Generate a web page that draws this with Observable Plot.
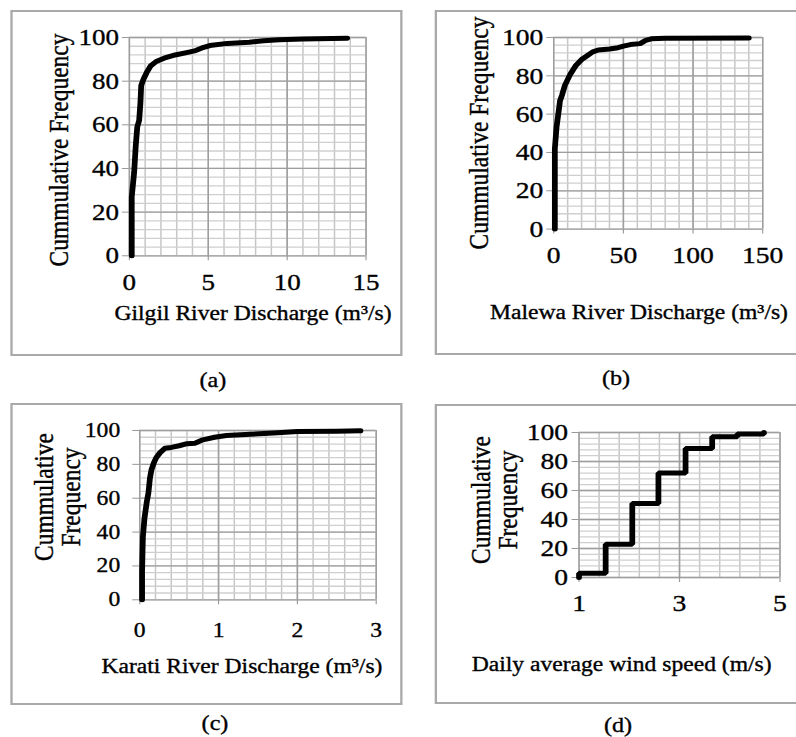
<!DOCTYPE html>
<html>
<head>
<meta charset="utf-8">
<script src="https://cdn.jsdelivr.net/npm/d3@7"></script>
<script src="https://cdn.jsdelivr.net/npm/@observablehq/plot@0.6"></script>
<style>
html,body{margin:0;padding:0;background:#fff;width:796px;height:737px;overflow:hidden}
#page{position:absolute;left:0;top:0;height:737px;transform-origin:0 0;font-family:'Liberation Serif','Times New Roman',serif;color:#000}
.frame{position:absolute;border:2px solid #a9a9a9;box-sizing:border-box}
.t{position:absolute;white-space:nowrap;transform:translate(-50%,-50%);line-height:1.15;-webkit-text-stroke:0.35px #000}
.yt{position:absolute;white-space:nowrap;text-align:center;transform:translate(-50%,-50%) rotate(-90deg);-webkit-text-stroke:0.35px #000}
svg{position:absolute}
svg text{stroke:#000;stroke-width:0.35px}
</style>
</head>
<body>
<div id="page"></div>
<script>
// ---- data ----
const yTicks = [0, 20, 40, 60, 80, 100];

const gilgilTicks = [0, 5, 10, 15];
const gilgilDischarge = [0.15,0.15,0.3,0.4,0.5,0.62,0.7,0.75,0.9,1.1,1.35,1.7,2.2,2.9,3.7,4.2,4.6,5.1,6.2,7.6,8.5,9.5,11,13.8];
const gilgilFreq      = [0,27,38,50,59,62,70,78,81,84,87,89,90.5,92,93.2,94,95.2,96.3,97.3,97.8,98.5,99,99.3,99.7];

const malewaTicks = [0, 50, 100, 150];
const malewaDischarge = [0.8,0.8,2,4,4.5,6,8,10,12,16,20,24,28,32,40,45,50,55,62,66,70,80,140];
const malewaFreq      = [0,42,53,64,67,70,75,78,81,85.5,88.5,90.5,92.5,93.5,94,94.5,95.5,96.3,96.8,98.5,99.3,99.6,99.7];

const karatiTicks = [0, 1, 2, 3];
const karatiDischarge = [0.03,0.03,0.04,0.06,0.09,0.11,0.13,0.15,0.18,0.21,0.26,0.32,0.4,0.5,0.6,0.7,0.8,0.95,1.1,1.4,1.7,2.0,2.5,2.8];
const karatiFreq      = [0,17,37,48,58,63,72,77,81,84,87,89.5,90,91,92.2,92.5,94.5,96,97,97.8,98.5,99.4,99.6,99.8];

const windTicks = [1, 3, 5];
const windSpeed = [1,1,1.53,2.06,2.58,3.12,3.65,4.15,4.68];
const windFreq  = [0,3,23,51,72,89,97,99,100];

const yTitle = "Cummulative Frequency";
const xTitles = ["Gilgil River Discharge (m³/s)", "Malewa River Discharge (m³/s)", "Karati River Discharge (m³/s)", "Daily average wind speed (m/s)"];
const captions = ["(a)", "(b)", "(c)", "(d)"];

// ---- layout ----
const K = 1.15; // horizontal stretch of the reference figure
const page = document.getElementById("page");
page.style.width = (796 / K) + "px";
page.style.transform = `scaleX(${K})`;
const FONT = "'Liberation Serif','Times New Roman',serif";

const rows = (xs, ys) => xs.map((x, i) => ({x, y: ys[i]}));

const panels = [
  {frame:{l:10,t:10,r:403,b:356}, plot:{L:128.3,R:365,T:36.7,B:255}, domain:[0,15], ticks:gilgilTicks, minor:1,
   data:rows(gilgilDischarge, gilgilFreq), curve:"linear", join:"round", tickFont:23.5, ySize:6, yPad:3, xPad:13,
   xt:[253,314], yt:[59.5,150], twoLine:false, cap:[213,380]},
  {frame:{l:435,t:10,r:800,b:355}, plot:{L:553.3,R:762.3,T:36.7,B:228.3}, domain:[0,150], ticks:malewaTicks, minor:10,
   data:rows(malewaDischarge, malewaFreq), curve:"linear", join:"round", tickFont:24, ySize:6, yPad:3, xPad:12,
   xt:[639,313], yt:[480,132.5], twoLine:false, cap:[616,378]},
  {frame:{l:10,t:403,r:403,b:705}, plot:{L:139,R:375.5,T:430,B:599.3}, domain:[0,3], ticks:karatiTicks, minor:0.2,
   data:rows(karatiDischarge, karatiFreq), curve:"linear", join:"round", tickFont:20.5, ySize:6, yPad:11, xPad:17.5,
   xt:[242,667], yt:[57,497], twoLine:true, cap:[215,723]},
  {frame:{l:435,t:404,r:800,b:704}, plot:{L:578.3,R:779.3,T:431.7,B:576.7}, domain:[1,5], ticks:windTicks, minor:0.4,
   data:rows(windSpeed, windFreq), curve:"step-after", join:"miter", tickFont:24, ySize:6, yPad:3.5, xPad:11,
   xt:[621.7,665], yt:[494.5,500], twoLine:true, cap:[618,725]}
];

panels.forEach((p, i) => {
  const f = document.createElement("div");
  f.className = "frame";
  f.style.left = (p.frame.l / K) + "px";
  f.style.top = p.frame.t + "px";
  f.style.width = ((p.frame.r - p.frame.l) / K) + "px";
  f.style.height = (p.frame.b - p.frame.t) + "px";
  page.appendChild(f);

  const Lu = p.plot.L / K, Ru = p.plot.R / K;
  const mL = 75, mR = 15, mT = 12, mB = 45;
  const n = Math.round((p.domain[1] - p.domain[0]) / p.minor);
  const xMinor = d3.range(n + 1).map(j => p.domain[0] + j * p.minor);
  const yMinor = d3.range(26).map(j => j * 4);

  const svg = Plot.plot({
    width: Ru - Lu + mL + mR,
    height: p.plot.B - p.plot.T + mT + mB,
    marginLeft: mL, marginRight: mR, marginTop: mT, marginBottom: mB,
    x: {domain: p.domain, label: null},
    y: {domain: [0, 100], label: null},
    style: {fontFamily: FONT, fontSize: p.tickFont + "px", color: "black", background: "transparent", overflow: "visible"},
    marks: [
      Plot.ruleX(xMinor, {stroke: "#c6c6c6", strokeWidth: 1.3}),
      Plot.ruleY(yMinor, {stroke: "#cfcfcf", strokeWidth: 1.3}),
      Plot.ruleX(p.ticks, {stroke: "#9e9e9e", strokeWidth: 1.3}),
      Plot.ruleY(yTicks, {stroke: "#9e9e9e", strokeWidth: 1.3}),
      Plot.axisX(p.ticks, {tickSize: 5, tickPadding: p.xPad, stroke: "#999", fill: "black", fontSize: p.tickFont, label: null}),
      Plot.axisY(yTicks, {tickSize: p.ySize, tickPadding: p.yPad, stroke: "#999", fill: "black", fontSize: p.tickFont, label: null}),
      Plot.line(p.data, {x: "x", y: "y", stroke: "black", strokeWidth: 5, curve: p.curve, strokeLinejoin: p.join})
    ]
  });
  svg.style.left = (Lu - mL) + "px";
  svg.style.top = (p.plot.T - mT) + "px";
  page.appendChild(svg);

  const xt = document.createElement("div");
  xt.className = "t";
  xt.style.fontSize = "20.5px";
  xt.style.left = (p.xt[0] / K) + "px";
  xt.style.top = p.xt[1] + "px";
  xt.textContent = xTitles[i];
  page.appendChild(xt);

  const yt = document.createElement("div");
  yt.className = "yt";
  yt.style.fontSize = "23.5px";
  yt.style.lineHeight = p.twoLine ? (26 / K) + "px" : "1.15";
  yt.style.left = (p.yt[0] / K) + "px";
  yt.style.top = p.yt[1] + "px";
  if (p.twoLine) {
    const parts = yTitle.split(" ");
    yt.appendChild(document.createTextNode(parts[0]));
    yt.appendChild(document.createElement("br"));
    yt.appendChild(document.createTextNode(parts[1]));
  } else {
    yt.textContent = yTitle;
  }
  page.appendChild(yt);

  const c = document.createElement("div");
  c.className = "t";
  c.style.fontSize = "21px";
  c.style.left = (p.cap[0] / K) + "px";
  c.style.top = p.cap[1] + "px";
  c.textContent = captions[i];
  page.appendChild(c);
});
</script>
</body>
</html>
